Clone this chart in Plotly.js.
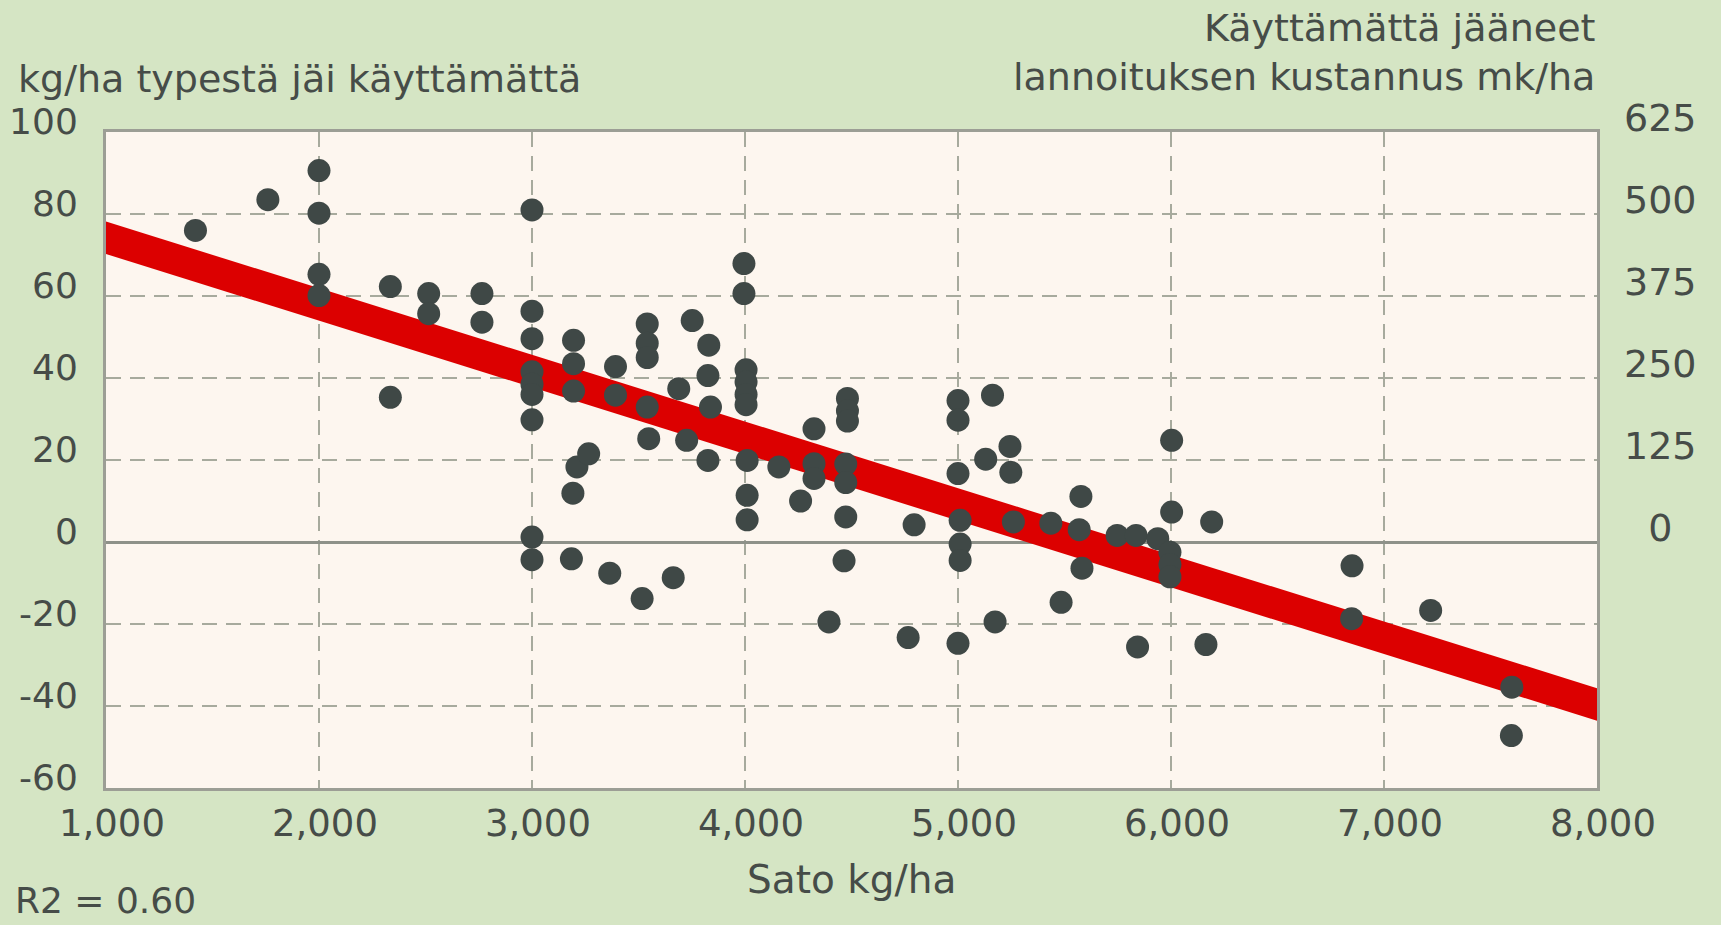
<!DOCTYPE html>
<html>
<head>
<meta charset="utf-8">
<script src="https://cdn.plot.ly/plotly-3.0.1.min.js"></script>
<style>
  html, body { margin: 0; padding: 0; background: #d5e5c4; }
  #chart { width: 1721px; height: 925px; }
</style>
</head>
<body>
<div id="chart"></div>
<script>
// ---- Data ----
const satoX = [
  1420, 1760, 2000, 2000, 2000, 2000, 2335, 2335, 2515, 2515,
  2765, 2765, 3000, 3000, 3000, 3000, 3000, 3000, 3000, 3000,
  3000, 3195, 3195, 3195, 3192, 3185, 3211, 3266, 3392, 3392,
  3365, 3541, 3541, 3541, 3541, 3548, 3517, 3663, 3689, 3726,
  3752, 3830, 3826, 3838, 3826, 3995, 3995, 4005, 4005, 4005,
  4005, 4010, 4010, 4010, 4159, 4261, 4324, 4324, 4324, 4394,
  4481, 4481, 4481, 4473, 4473, 4473, 4465, 4766, 4794, 5000,
  5000, 5000, 5010, 5010, 5010, 5000, 5162, 5130, 5244, 5248,
  5174, 5260, 5436, 5484, 5577, 5569, 5582, 5747, 5836, 5938,
  5843, 6003, 6003, 5995, 5995, 5995, 6191, 6164, 6850, 6848,
  7219, 7600, 7598
];
const typpiY = [
  76, 83.5, 90.6, 80.2, 65.3, 60.1, 62.3, 35.3, 60.6, 55.7,
  60.6, 53.6, 81, 56.3, 49.6, 41.5, 38.5, 36, 29.8, 1.2,
  -4.3, 49.2, 43.5, 36.8, 11.9, -4.1, 18.3, 21.5, 42.8, 35.8,
  -7.6, 53.2, 48.5, 45, 32.9, 25.2, -13.8, -8.7, 37.4, 24.8,
  54, 48, 40.6, 32.9, 19.9, 67.9, 60.6, 42, 39, 36,
  33.5, 19.9, 11.4, 5.4, 18.3, 10, 27.6, 19.1, 15.5, -19.5,
  35, 32, 29.5, 19, 14.5, 6.1, -4.6, -23.3, 4.2, 34.5,
  29.7, 16.7, 5.3, -0.5, -4.5, -24.7, 35.8, 20.2, 23.3, 17,
  -19.5, 4.9, 4.6, -14.7, 11.1, 3.0, -6.4, 1.6, 1.6, 0.8,
  -25.6, 24.8, 7.3, -2.5, -5.5, -8.5, 4.9, -25, -5.8, -18.7,
  -16.7, -35.4, -47.2
];
// regression line: y = intercept + slope * x  (R2 = 0.60)
const fitIntercept = 90.46;
const fitSlope = -0.01626;
const fitX = [800, 8200];            // drawn past the axis range, clipped by the plot area
const fitY = fitX.map(x => fitIntercept + fitSlope * x);

// cost scale on the right axis: 6.25 mk per kg of nitrogen
const mkPerKg = 6.25;

const xTickVals = [1000, 2000, 3000, 4000, 5000, 6000, 7000, 8000];
const yTickVals = [-60, -40, -20, 0, 20, 40, 60, 80, 100];
const yTickText = ['-60', '-40', '-20', '0', '20', '40', '60', '80', '100'];
const y2TickVals = [0, 125, 250, 375, 500, 625];
const y2TickText = ['\u20070', '125', '250', '375', '500', '625'];

const leftTitle = 'kg/ha typestä jäi käyttämättä';
const rightTitle1 = 'Käyttämättä jääneet';
const rightTitle2 = 'lannoituksen kustannus mk/ha';
const xTitle = 'Sato kg/ha';
const r2Text = 'R2 = 0.60';

// ---- Styling ----
const FONT = 'DejaVu Sans, Liberation Sans, sans-serif';
const TXT = '#464c48';
const GRID = '#a7aa9d';

const traces = [
  {
    x: fitX, y: fitY, type: 'scatter', mode: 'lines',
    line: { color: '#dc0000', width: 31 },
    hoverinfo: 'skip', showlegend: false
  },
  {
    x: satoX, y: typpiY, type: 'scatter', mode: 'markers',
    marker: { color: '#3f4846', size: 23, line: { width: 0 } },
    showlegend: false
  },
  {
    // same points on the cost axis (invisible), so the right axis is drawn
    x: satoX, y: typpiY.map(v => v * mkPerKg), yaxis: 'y2',
    type: 'scatter', mode: 'markers',
    marker: { opacity: 0, size: 1 },
    hoverinfo: 'skip', showlegend: false
  }
];

const layout = {
  width: 1721, height: 925,
  margin: { l: 106, r: 124, t: 132, b: 137 },
  paper_bgcolor: '#d5e5c4',
  plot_bgcolor: '#fdf6ef',
  font: { family: FONT, color: TXT },
  showlegend: false,
  xaxis: {
    range: [1000, 8000],
    tickvals: xTickVals,
    tickformat: ',d',
    ticks: '',
    tickfont: { size: 37, color: TXT },
    ticklabelshift: 6,
    ticklabelstandoff: 1,
    showgrid: true, gridcolor: GRID, gridwidth: 2.5, griddash: '15px,9px',
    zeroline: false,
    showline: true, linecolor: '#9c9e95', linewidth: 3, mirror: true
  },
  yaxis: {
    range: [-60, 100],
    tickvals: yTickVals,
    ticktext: yTickText,
    ticks: '',
    tickfont: { size: 36, color: TXT },
    ticklabelshift: -11,
    ticklabelstandoff: 18,
    showgrid: true, gridcolor: GRID, gridwidth: 2.5, griddash: '15px,9px',
    zeroline: true, zerolinecolor: '#8e9189', zerolinewidth: 3,
    showline: true, linecolor: '#9c9e95', linewidth: 3, mirror: true
  },
  yaxis2: {
    overlaying: 'y', side: 'right',
    range: [-60 * mkPerKg, 100 * mkPerKg],
    tickvals: y2TickVals,
    ticktext: y2TickText,
    ticks: '',
    tickfont: { size: 38, color: TXT },
    ticklabelshift: -14,
    ticklabelstandoff: 26,
    showgrid: false, zeroline: false, showline: false
  },
  annotations: [
    { text: leftTitle, xref: 'paper', yref: 'paper', x: -0.0604, y: 1.081,
      xanchor: 'left', yanchor: 'middle', showarrow: false,
      font: { size: 38, family: FONT, color: TXT } },
    { text: rightTitle1, xref: 'paper', yref: 'paper', x: 1, y: 1.158,
      xanchor: 'right', yanchor: 'middle', showarrow: false,
      font: { size: 38, family: FONT, color: TXT } },
    { text: rightTitle2, xref: 'paper', yref: 'paper', x: 1, y: 1.084,
      xanchor: 'right', yanchor: 'middle', showarrow: false,
      font: { size: 38, family: FONT, color: TXT } },
    { text: xTitle, xref: 'paper', yref: 'paper', x: 0.5, y: -0.140,
      xanchor: 'center', yanchor: 'middle', showarrow: false,
      font: { size: 39, family: FONT, color: TXT } },
    { text: r2Text, xref: 'paper', yref: 'paper', x: -0.0624, y: -0.172,
      xanchor: 'left', yanchor: 'middle', showarrow: false,
      font: { size: 36, family: FONT, color: TXT } }
  ]
};

Plotly.newPlot('chart', traces, layout, { displayModeBar: false, staticPlot: true });
</script>
</body>
</html>
